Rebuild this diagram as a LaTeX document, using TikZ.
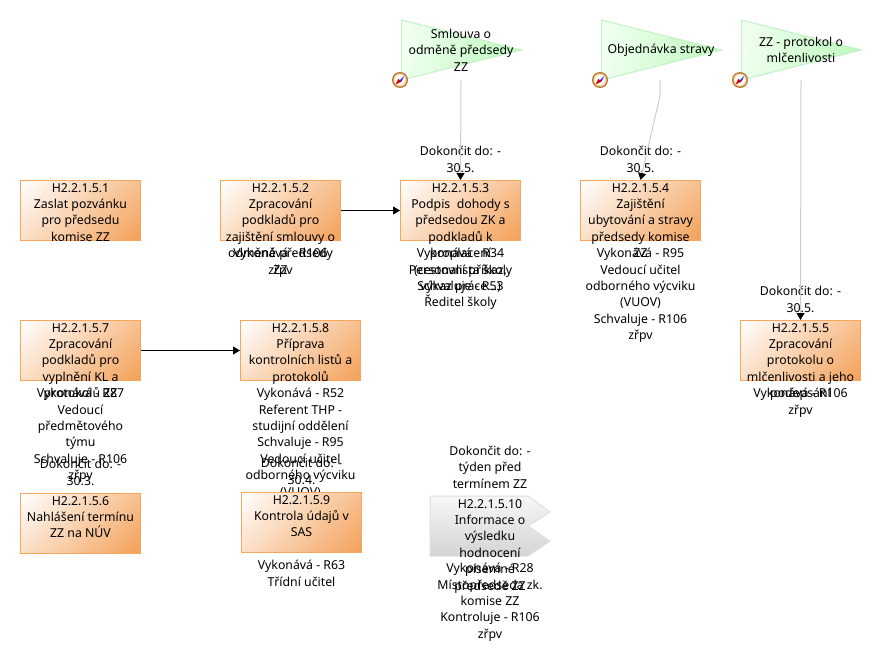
\documentclass[tikz,border=0pt]{standalone}
\usepackage{fontspec}
\setmainfont{Noto Sans}
\usepackage{xcolor}
\usetikzlibrary{shapes.geometric,arrows.meta,positioning}
\definecolor{taskEdge}{HTML}{F7A65C}
\definecolor{taskFill}{HTML}{F3A058}
\definecolor{flagEdge}{HTML}{C4F2C4}
\definecolor{flagFill}{HTML}{BEF9BE}
\definecolor{linkGrey}{HTML}{CCCCCC}
\definecolor{noteEdge}{HTML}{DEDEDE}
\definecolor{compassRim}{HTML}{B5762F}
\pgfdeclarehorizontalshading{taskdiag}{100bp}{color(0bp)=(white); color(14.6bp)=(white); color(85.4bp)=(taskFill); color(100bp)=(taskFill)}

\begin{document}
\begin{tikzpicture}[x=1pt,y=-1pt,
  txt/.style={font=\fontsize{12.3}{16.4}\selectfont,align=center,inner sep=0pt},
  task/.style={draw=taskEdge,line width=1pt,shade,shading=taskdiag,shading angle=-45,
               minimum width=120pt,minimum height=60pt,inner sep=0pt},
  tasktxt/.style={txt,anchor=north,yshift=-3pt},
  role/.style={txt,below=7pt of #1},
  due/.style={txt,above=7.5pt of #1},
  flag/.style={isosceles triangle,isosceles triangle stretches,shape border rotate=0,
               draw=flagEdge,line width=1pt,left color=green!6!white,right color=flagFill,shading angle=80,
               minimum width=60pt,minimum height=120pt,inner sep=0pt,anchor=lower side},
  link/.style={linkGrey,line width=1pt,-{Triangle[color=black,length=7pt,width=8pt]}},
  flow/.style={black,line width=1pt,-{Triangle[length=7pt,width=8pt]}},
  pics/compass/.style={code={
    \fill[compassRim] (0,0) circle (8pt);
    \fill[orange!35!white] (0,0) circle (6.6pt);
    \fill[white] (0,0) circle (5.4pt);
    \fill[blue!85!white] (-1.6,1.6) -- (4.4,-4.4) -- (1.8,1) -- cycle;
    \fill[red!85!black] (-4.4,4.4) -- (-1.6,-1.2) -- (1.6,1.6) -- cycle;
  }}]
\useasboundingbox (0,0) rectangle (882,664);

% documents on top
\node[flag] (f1) at (401,50) {};
\node[flag] (f2) at (601,50) {};
\node[flag] (f3) at (741,50) {};
\node[txt] (f1t) at (461,50) {Smlouva o\\odměně předsedy\\ZZ};
\node[txt] (f2t) at (661,50) {Objednávka stravy};
\node[txt] (f3t) at (801,50) {ZZ - protokol o\\mlčenlivosti};
\pic at (400,80) {compass};
\pic at (600,80) {compass};
\pic at (740,80) {compass};
\coordinate (f1end) at (461,80);
\coordinate (f2end) at (660,80);
\coordinate (f2bend) at (660,96);
\coordinate (f3end) at (801,80);

% tasks
\node[task] (b1) at (80.5,210.5) {};
\node[task] (b2) at (280.5,210.5) {};
\node[task] (b3) at (460.5,210.5) {};
\node[task] (b4) at (640.5,210.5) {};
\node[task] (b5) at (800.5,350.5) {};
\node[task] (b7) at (80.5,350.5) {};
\node[task] (b8) at (300.5,350.5) {};

\node[role=b2] (r2) {Vykonává - R106\\zřpv};
\node[role=b3] (r3) {Vykonává - R34\\Personalista školy\\Schvaluje - R53\\Ředitel školy};
\node[role=b4] (r4) {Vykonává - R95\\Vedoucí učitel\\odborného výcviku\\(VUOV)\\Schvaluje - R106\\zřpv};
\node[role=b5] (r5) {Vykonává - R106\\zřpv};
\node[role=b7] (r7) {Vykonává - R87\\Vedoucí\\předmětového\\týmu\\Schvaluje - R106\\zřpv};
\node[role=b8] (r8) {Vykonává - R52\\Referent THP -\\studijní oddělení\\Schvaluje - R95\\Vedoucí učitel\\odborného výcviku\\(VUOV)};

\node[task] (b6) at (80.5,523.5) {};
\node[task] (b9) at (301.5,522.5) {};
\node[role=b9] (r9) {Vykonává - R63\\Třídní učitel};

% grey double flag
\draw[draw=noteEdge,line width=1pt,top color=black!3,bottom color=black!17]
  (430,496) -- (528,496) -- (550,512) -- (528,526) -- (550,541) -- (528,556) -- (430,556) -- cycle;
\coordinate (b10top) at (490,496);
\node[txt,anchor=north,yshift=-3pt] (t10) at (b10top) {H2.2.1.5.10\\Informace o\\výsledku\\hodnocení\\písemné\\předsedě ZZ};
\node[txt,anchor=north] (r10) at (490,563) {Vykonává - R28\\Místopředseda zk.\\komise ZZ\\Kontroluje - R106\\zřpv};

\node[tasktxt] (t1) at (b1.north) {H2.2.1.5.1\\Zaslat pozvánku\\pro předsedu\\komise ZZ};
\node[tasktxt] (t2) at (b2.north) {H2.2.1.5.2\\Zpracování\\podkladů pro\\zajištění smlouvy o\\odměně předsedy\\ZZ};
\node[tasktxt] (t3) at (b3.north) {H2.2.1.5.3\\Podpis\ \ dohody s\\předsedou ZK a\\podkladů k\\proplacení\\(cestovní příkaz,\\výkaz práce...)};
\node[tasktxt] (t4) at (b4.north) {H2.2.1.5.4\\Zajištění\\ubytování a stravy\\předsedy komise\\ZZ};
\node[tasktxt] (t5) at (b5.north) {H2.2.1.5.5\\Zpracování\\protokolu o\\mlčenlivosti a jeho\\podepsání};
\node[tasktxt] (t7) at (b7.north) {H2.2.1.5.7\\Zpracování\\podkladů pro\\vyplnění KL a\\protokolů ZZ};
\node[tasktxt] (t8) at (b8.north) {H2.2.1.5.8\\Příprava\\kontrolních listů a\\protokolů};
\node[tasktxt] (t6) at (b6.north) {H2.2.1.5.6\\Nahlášení termínu\\ZZ na NÚV};
\node[tasktxt] (t9) at (b9.north) {H2.2.1.5.9\\Kontrola údajů v\\SAS};

% deadlines
\node[due=b3] (d3) {Dokončit do: -\\30.5.};
\node[due=b4] (d4) {Dokončit do: -\\30.5.};
\node[due=b5] (d5) {Dokončit do: -\\30.5.};
\node[due=b6] (d6) {Dokončit do: -\\30.3.};
\node[due=b9] (d9) {Dokončit do: -\\30.4.};
\node[txt,above=7.5pt of b10top] (d10) {Dokončit do: -\\týden před\\termínem ZZ};

% connectors
\draw[link] (f1end) -- (b3.north);
\draw[link] (f2end) -- (f2bend) -- (b4.north);
\draw[link] (f3end) -- (b5.north);
\draw[flow] (b2) -- (b3);
\draw[flow] (b7) -- (b8);
\end{tikzpicture}
\end{document}
